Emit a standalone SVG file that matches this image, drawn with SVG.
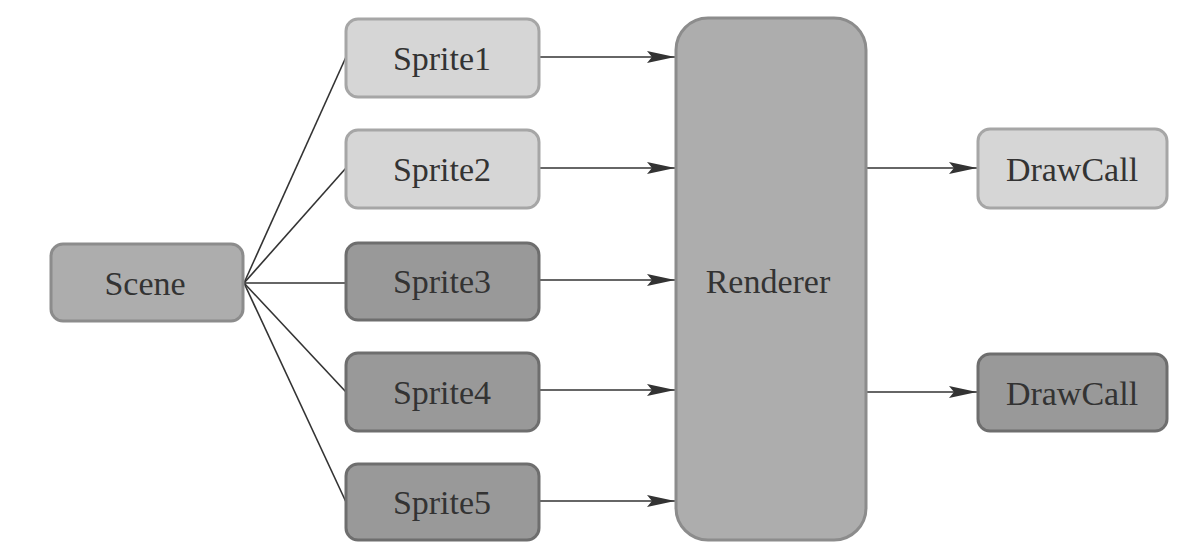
<svg xmlns="http://www.w3.org/2000/svg" width="1200" height="559" viewBox="0 0 1200 559">
<style>
.box{stroke-width:3}
.light{fill:#d6d6d6;stroke:#a6a6a6}
.mid{fill:#adadad;stroke:#8c8c8c}
.dark{fill:#999999;stroke:#6e6e6e}
.lbl{font-family:"Liberation Serif",serif;font-size:34px;fill:#333333;text-anchor:middle;dominant-baseline:central}
.edge{stroke:#333333;stroke-width:1.6;fill:none}
</style>
<defs>
<marker id="arr" viewBox="0 0 28 12" refX="28" refY="6" markerWidth="28" markerHeight="12" markerUnits="userSpaceOnUse" orient="auto">
<path d="M0,0 L28,6 L0,12 L5,6 Z" fill="#333333"/>
</marker>
</defs>
<rect width="1200" height="559" fill="#ffffff"/>
<g id="connectors">
<line class="edge" x1="244" y1="283" x2="346" y2="57"/>
<line class="edge" x1="244" y1="283" x2="346" y2="168"/>
<line class="edge" x1="244" y1="283" x2="346" y2="283"/>
<line class="edge" x1="244" y1="283" x2="346" y2="392"/>
<line class="edge" x1="244" y1="283" x2="346" y2="502"/>
<line class="edge" x1="539" y1="57" x2="675" y2="57" marker-end="url(#arr)"/>
<line class="edge" x1="539" y1="168" x2="675" y2="168" marker-end="url(#arr)"/>
<line class="edge" x1="539" y1="280" x2="675" y2="280" marker-end="url(#arr)"/>
<line class="edge" x1="539" y1="390" x2="675" y2="390" marker-end="url(#arr)"/>
<line class="edge" x1="539" y1="501" x2="675" y2="501" marker-end="url(#arr)"/>
<line class="edge" x1="867" y1="168" x2="977" y2="168" marker-end="url(#arr)"/>
<line class="edge" x1="867" y1="392" x2="977" y2="392" marker-end="url(#arr)"/>
</g>
<g id="scene"><rect class="box mid" x="51" y="244" width="192" height="77" rx="12"/><text class="lbl" x="145" y="283">Scene</text></g>
<g id="sprite1"><rect class="box light" x="346" y="19" width="193" height="78" rx="12"/><text class="lbl" x="442" y="58">Sprite1</text></g>
<g id="sprite2"><rect class="box light" x="346" y="130" width="193" height="78" rx="12"/><text class="lbl" x="442" y="169">Sprite2</text></g>
<g id="sprite3"><rect class="box dark" x="346" y="243" width="193" height="77" rx="12"/><text class="lbl" x="442" y="281">Sprite3</text></g>
<g id="sprite4"><rect class="box dark" x="346" y="353" width="193" height="78" rx="12"/><text class="lbl" x="442" y="392">Sprite4</text></g>
<g id="sprite5"><rect class="box dark" x="346" y="464" width="193" height="76" rx="12"/><text class="lbl" x="442" y="502">Sprite5</text></g>
<g id="renderer"><rect class="box mid" x="676" y="18" width="190" height="522" rx="32"/><text class="lbl" x="768" y="281">Renderer</text></g>
<g id="drawcall1"><rect class="box light" x="978" y="129" width="189" height="79" rx="12"/><text class="lbl" x="1072" y="169">DrawCall</text></g>
<g id="drawcall2"><rect class="box dark" x="978" y="354" width="189" height="77" rx="12"/><text class="lbl" x="1072" y="393">DrawCall</text></g>
</svg>
